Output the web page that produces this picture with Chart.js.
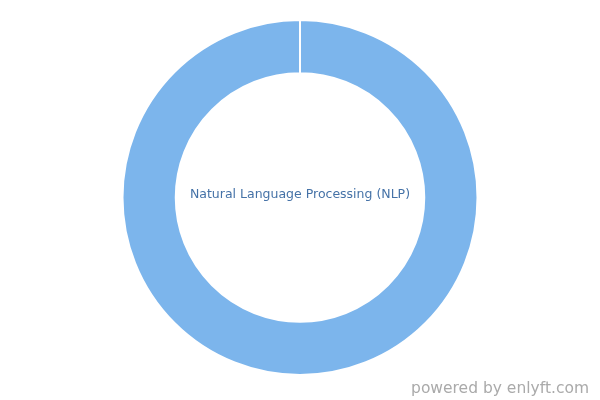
<!DOCTYPE html>
<html>
<head>
<meta charset="utf-8">
<script src="https://cdn.jsdelivr.net/npm/chart.js@4/dist/chart.umd.min.js"></script>
<style>
  html, body { margin: 0; padding: 0; background: #fff; }
  #wrap { position: relative; width: 600px; height: 400px; }
  #center {
    position: absolute; left: 0; top: 186px; width: 600px; text-align: center;
    font-family: "DejaVu Sans", sans-serif; font-size: 12.5px; color: #4572a7;
  }
  #credit {
    position: absolute; right: 11px; top: 379px;
    font-family: "DejaVu Sans", sans-serif; font-size: 15.5px; color: #aaaaaa;
  }
</style>
</head>
<body>
<div id="wrap">
  <canvas id="donut" width="600" height="400"></canvas>
  <div id="center">Natural Language Processing (NLP)</div>
  <div id="credit">powered by enlyft.com</div>
</div>
<script>
  "use strict";

  // one category, takes the whole ring
  var categories = [ "Natural Language Processing (NLP)" ];
  var shares = [ 100 ];
  var colors = [ "#7cb5ec" ];

  var ctx = document.getElementById( "donut" );
  var myChart = new Chart( ctx, {
    type: 'doughnut',
    data: {
      labels: categories,
      datasets: [
        {
          data: shares,
          backgroundColor: colors,
          borderColor: "#ffffff",
          borderWidth: 2
        }
      ]
    },
    options: {
      responsive: false,
      animation: false,
      cutout: '70%',
      layout: {
        padding: { top: 19, bottom: 24 }
      },
      plugins: {
        legend: { display: false },
        tooltip: { enabled: false }
      }
    }
  });
</script>
</body>
</html>
